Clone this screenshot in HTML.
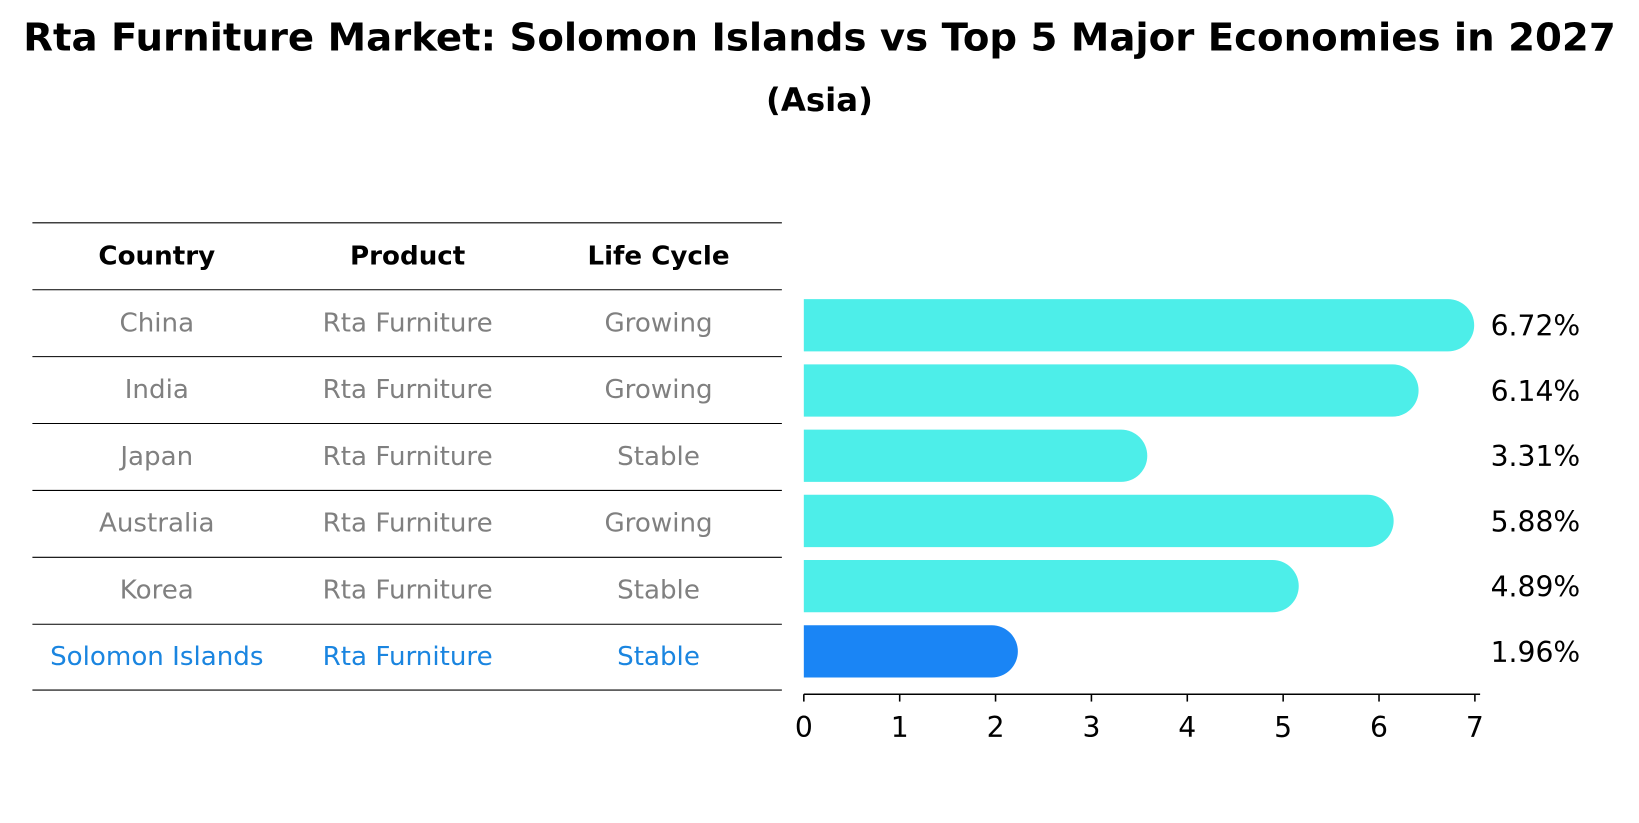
<!DOCTYPE html>
<html><head><meta charset="utf-8"><style>
body{margin:0;background:#fff;}
svg{display:block;font-family:"DejaVu Sans","Liberation Sans",sans-serif;}
</style></head><body>
<svg id="chart" width="1639" height="823" viewBox="0 0 1568 787">
<text x="784" y="48" text-anchor="middle" font-size="37" font-weight="bold">Rta Furniture Market: Solomon Islands vs Top 5 Major Economies in 2027</text>
<text x="784" y="106" text-anchor="middle" font-size="31" font-weight="bold">(Asia)</text>
<g id="table"></g>
<g id="bars"></g>
<g id="axis"></g>
</svg>
<script>
const countries = ["China","India","Japan","Australia","Korea","Solomon Islands"];
const products = ["Rta Furniture","Rta Furniture","Rta Furniture","Rta Furniture","Rta Furniture","Rta Furniture"];
const lifeCycles = ["Growing","Growing","Stable","Growing","Stable","Stable"];
const values = [6.72,6.14,3.31,5.88,4.89,1.96];
const tickLabels = [0,1,2,3,4,5,6,7];

const NS="http://www.w3.org/2000/svg";
function mk(tag,attrs,parent,text){const e=document.createElementNS(NS,tag);for(const k in attrs)e.setAttribute(k,attrs[k]);if(text!==undefined)e.textContent=text;parent.appendChild(e);return e;}
const x0=769, pxPer=(1411-769)/7;
const xs=v=>x0+v*pxPer;
const rowY=i=>311+i*62.4;
const bars=document.getElementById('bars'), axis=document.getElementById('axis'), table=document.getElementById('table');

const lineYs=[213,277,341,405,469,533,597,660];
lineYs.forEach((y,i)=>{const l=mk('line',{x1:31,x2:748,y1:y,y2:y,stroke:'#000','stroke-width':1},table);

});
const colX=[150,390,630];
["Country","Product","Life Cycle"].forEach((h,j)=>{const t=mk('text',{x:colX[j],y:253,'text-anchor':'middle','font-size':25,'font-weight':'bold'},table,h);

});
countries.forEach((c,i)=>{
  const y=308+i*63.8+9;
  const col=i===countries.length-1?'#1a85e0':'#808080';
  [c,products[i],lifeCycles[i]].forEach((s,j)=>{const t=mk('text',{x:colX[j],y:y,'text-anchor':'middle','font-size':25,fill:col},table,s);
  
  });
});

values.forEach((v,i)=>{
  const cy=rowY(i), h=50, r=25;
  const col=i===values.length-1?'#1a85f5':'#4deee9';
  const xe=xs(v);
  const p=mk('path',{d:`M${x0},${cy-h/2} L${xe},${cy-h/2} A${r},${r} 0 0 1 ${xe},${cy+h/2} L${x0},${cy+h/2} Z`,fill:col},bars);
  
  
  const t=mk('text',{x:1426,y:cy+10,'font-size':27},bars,v.toFixed(2)+'%');
  
  
});

const al=mk('line',{x1:x0,x2:1416,y1:664,y2:664,stroke:'#000','stroke-width':1.5},axis);


tickLabels.forEach(t=>{
  const x=xs(t);
  const tk=mk('line',{x1:x,x2:x,y1:664,y2:671,stroke:'#000','stroke-width':1.5},axis);
  
  
  const tl=mk('text',{x:x,y:705,'text-anchor':'middle','font-size':27},axis,String(t));
  
  
});
</script>
</body></html>
